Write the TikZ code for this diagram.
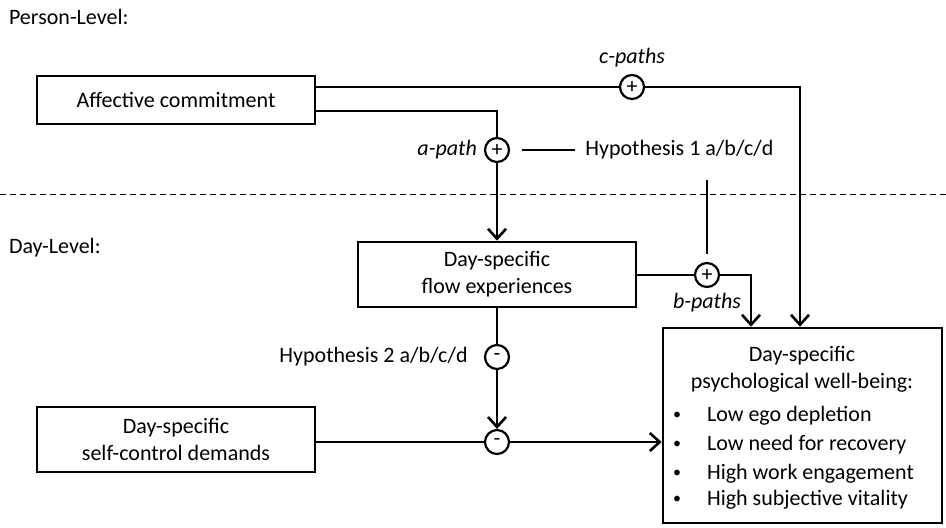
\documentclass[tikz,border=0pt]{standalone}
\usepackage{fontspec}
\setmainfont{Carlito}
\usetikzlibrary{arrows.meta}
\begin{document}
\begin{tikzpicture}[x=0.5pt, y=-0.5pt,
    font=\fontsize{11}{13.5}\selectfont,
    box/.style={draw, line width=1.3pt, inner sep=0pt, align=center},
    sign/.style={draw, circle, line width=1.1pt, minimum size=12pt, inner sep=0pt, font=\fontsize{11}{11}\selectfont},
    path/.style={line width=1.3pt},
    arr/.style={path, -{Straight Barb[length=5pt, width=9pt, line width=1.3pt]}}]
    \useasboundingbox (0,0) rectangle (946,527);
    % levels
    \node[anchor=west] (pl) at (2,17) {Person-Level:};
    \node[anchor=west] (dl) at (2,248) {Day-Level:};
    \coordinate (dl0) at (0,194);
    \coordinate (dl1) at (946,194);
    \draw[line width=0.5pt, dash pattern=on 3pt off 2pt] (dl0) -- (dl1);
    % boxes
    \node[box, minimum width=139pt, minimum height=24pt] (aff) at (176,100) {Affective commitment};
    \node[box, minimum width=139pt, minimum height=32.5pt] (flow) at (497,274.5) {Day-specific\\flow experiences};
    \node[box, minimum width=139pt, minimum height=32.5pt] (self) at (176,439.5) {Day-specific\\self-control demands};
    \node[box, minimum width=139.5pt, minimum height=97.5pt] (wb) at (802.5,425.5) {};
    \node[align=center] (wbt) at (802,369) {Day-specific\\psychological well-being:};
    \foreach \y/\t [count=\i] in {416/Low ego depletion, 445/Low need for recovery, 474/High work engagement, 500/High subjective vitality} {
      \node[font=\fontsize{8}{8}\selectfont] (bul\i) at (677,\y) {•};
      \node[anchor=west] (it\i) at (700,\y) {\t};
    }
    % signs
    \node[sign] (cp) at (632,87) {+};
    \node[sign] (ap) at (497,150) {+};
    \node[sign] (bp) at (707,275) {+};
    \node[sign] (h2s) at (497,357) {-};
    \node[sign] (mod) at (497,442) {-};
    \node (cpl) at (632,58) {\itshape c-paths};
    \node[anchor=east] (apl) at (ap.west) {\itshape a-path};
    \node (bpl) at (707,303) {\itshape b-paths};
    \node[anchor=west, inner sep=0pt] (h1) at (585,150) {Hypothesis 1 a/b/c/d};
    \node[anchor=east, inner sep=0pt] (h2) at (468,357) {Hypothesis 2 a/b/c/d};
    % paths
    \coordinate (cdn) at (800,87);
    \coordinate (bdn) at (751,275);
    \draw[path] (aff.east |- cp) -- (cp);
    \draw[arr] (cp) -- (cdn) -- (cdn |- wb.north);
    \draw[path] (aff.east |- 0,111) -| (ap);
    \draw[arr] (ap) -- (flow);
    \draw[path] (flow.east |- bp) -- (bp);
    \draw[arr] (bp) -- (bdn) -- (bdn |- wb.north);
    \draw[path] (flow) -- (h2s);
    \draw[arr] (h2s) -- (mod);
    \draw[path] (self.east |- mod) -- (mod);
    \draw[arr] (mod) -- (wb.west |- mod);
    \draw[path] ([xshift=6pt]ap.east) -- ([xshift=-5pt]h1.west);
    \draw[path] (h1.south -| bp) ++(0,20) coordinate (hv) -- (hv |- 0,254);
\end{tikzpicture}
\end{document}
